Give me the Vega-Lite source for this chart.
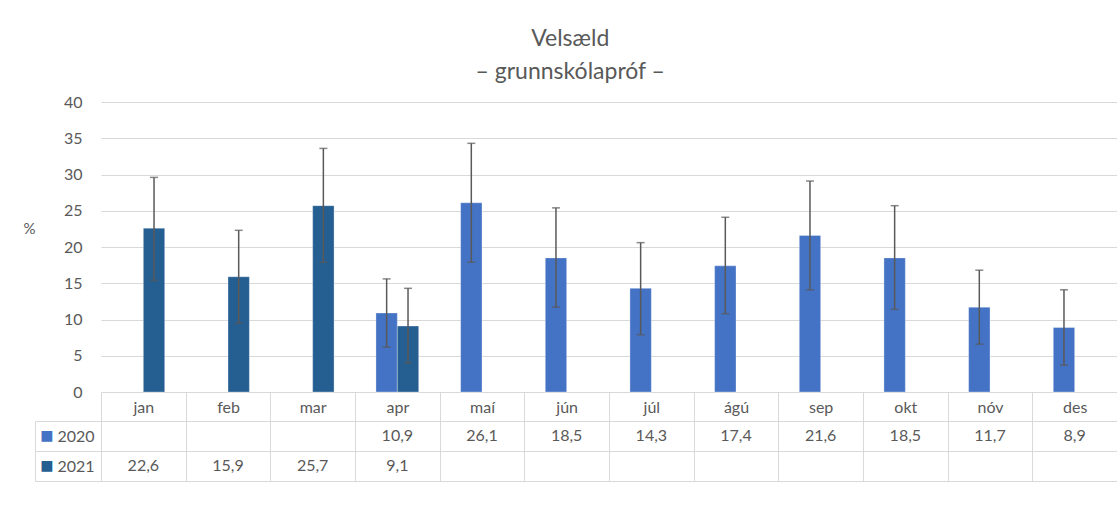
{
  "$schema": "https://vega.github.io/schema/vega-lite/v6.json",
  "padding": {"left": 23, "top": 28, "right": 0, "bottom": 0},
  "background": "#ffffff",
  "config": {
    "font": "Lato",
    "view": {"stroke": null},
    "concat": {"spacing": 29},
    "locale": {"number": {"decimal": ",", "thousands": ".", "grouping": [3], "currency": ["", " kr."]}},
    "axisQuantitative": {
      "values": [0, 5, 10, 15, 20, 25, 30, 35, 40],
      "labelOverlap": false,
      "ticks": false,
      "domain": false,
      "grid": true,
      "gridColor": "#d9d9d9",
      "labelPadding": 19,
      "labelFontSize": 16,
      "labelColor": "#595959",
      "titleAngle": 0,
      "titleX": -78,
      "titleY": 126,
      "titleAlign": "left",
      "titleBaseline": "middle",
      "titleFontSize": 15,
      "titleFontWeight": "normal",
      "titleColor": "#595959"
    }
  },
  "title": {
    "text": ["Velsæld", "– grunnskólapróf –"],
    "fontSize": 23,
    "fontWeight": "normal",
    "color": "#595959",
    "lineHeight": 33,
    "anchor": "middle",
    "offset": 10
  },
  "datasets": {
    "d": [
      {"month": "jan", "year": "2021", "value": 22.6, "lo": 15.4, "hi": 29.6},
      {"month": "feb", "year": "2021", "value": 15.9, "lo": 9.5, "hi": 22.3},
      {"month": "mar", "year": "2021", "value": 25.7, "lo": 17.9, "hi": 33.6},
      {"month": "apr", "year": "2020", "value": 10.9, "lo": 6.2, "hi": 15.6},
      {"month": "apr", "year": "2021", "value": 9.1, "lo": 4.0, "hi": 14.3},
      {"month": "maí", "year": "2020", "value": 26.1, "lo": 17.9, "hi": 34.3},
      {"month": "jún", "year": "2020", "value": 18.5, "lo": 11.7, "hi": 25.4},
      {"month": "júl", "year": "2020", "value": 14.3, "lo": 7.9, "hi": 20.6},
      {"month": "ágú", "year": "2020", "value": 17.4, "lo": 10.8, "hi": 24.1},
      {"month": "sep", "year": "2020", "value": 21.6, "lo": 14.1, "hi": 29.1},
      {"month": "okt", "year": "2020", "value": 18.5, "lo": 11.4, "hi": 25.7},
      {"month": "nóv", "year": "2020", "value": 11.7, "lo": 6.6, "hi": 16.8},
      {"month": "des", "year": "2020", "value": 8.9, "lo": 3.7, "hi": 14.1}
    ]
  },
  "data": {"name": "d"},
  "bounds": "flush",
  "spacing": 29,
  "vconcat": [
    {
      "width": 1016,
      "height": 290,
      "encoding": {
        "x": {
          "field": "month",
          "type": "nominal",
          "scale": {"domain": ["jan", "feb", "mar", "apr", "maí", "jún", "júl", "ágú", "sep", "okt", "nóv", "des"], "paddingInner": 0, "paddingOuter": 0},
          "axis": {
            "title": null,
            "labelAngle": 0,
            "labelFontSize": 16,
            "labelColor": "#595959",
            "labelBaseline": "top",
            "tickBand": "extent",
            "tickSize": 29,
            "tickColor": "#d9d9d9",
            "domainColor": "#d9d9d9",
            "labelPadding": -22,
            "grid": false
          }
        },
        "xOffset": {
          "field": "year",
          "type": "nominal",
          "scale": {"domain": ["2020", "2021"], "paddingInner": 0, "paddingOuter": 0.98}
        }
      },
      "layer": [
        {
          "mark": {"type": "bar", "stroke": "#ffffff", "strokeOpacity": 0.4, "strokeWidth": 0.8},
          "encoding": {
            "y": {"field": "value", "type": "quantitative", "title": "%", "scale": {"domain": [0, 40]}},
            "color": {
              "field": "year",
              "type": "nominal",
              "scale": {"domain": ["2020", "2021"], "range": ["#4472C4", "#255E91"]},
              "legend": null
            }
          }
        },
        {
          "mark": {"type": "rule", "color": "#595959", "strokeWidth": 1.5},
          "encoding": {
            "y": {"field": "lo", "type": "quantitative", "title": "%"},
            "y2": {"field": "hi"}
          }
        },
        {
          "mark": {"type": "tick", "color": "#595959", "thickness": 1.5, "size": 8, "orient": "horizontal"},
          "encoding": {
            "y": {"field": "lo", "type": "quantitative", "title": "%"}
          }
        },
        {
          "mark": {"type": "tick", "color": "#595959", "thickness": 1.5, "size": 8, "orient": "horizontal"},
          "encoding": {
            "y": {"field": "hi", "type": "quantitative", "title": "%"}
          }
        }
      ]
    },
    {
      "width": 1016,
      "height": 60,
      "encoding": {
        "x": {
          "field": "month",
          "type": "nominal",
          "scale": {"domain": ["jan", "feb", "mar", "apr", "maí", "jún", "júl", "ágú", "sep", "okt", "nóv", "des"], "paddingInner": 0, "paddingOuter": 0},
          "axis": {
            "title": null,
            "labels": false,
            "ticks": false,
            "domain": false,
            "grid": true,
            "gridColor": "#d9d9d9",
            "tickBand": "extent"
          }
        }
      },
      "layer": [
        {
          "mark": {"type": "text", "fontSize": 16, "color": "#595959"},
          "encoding": {
            "y": {
              "field": "year",
              "type": "nominal",
              "scale": {"domain": ["2020", "2021"], "paddingInner": 0, "paddingOuter": 0},
              "axis": {
                "orient": "left",
                "title": null,
                "tickBand": "extent",
                "tickSize": 66,
                "tickColor": "#d9d9d9",
                "domainColor": "#d9d9d9",
                "grid": true,
                "gridColor": "#d9d9d9",
                "labelPadding": -59,
                "labelFontSize": 16,
                "labelColor": "#595959",
                "labelAlign": "right"
              }
            },
            "text": {"field": "value", "type": "quantitative", "format": ".1f"}
          }
        },
        {
          "mark": {"type": "text", "opacity": 0},
          "encoding": {
            "y": {
              "field": "year",
              "type": "nominal",
              "axis": {
                "orient": "left",
                "offset": 66,
                "title": null,
                "ticks": false,
                "grid": false,
                "domainColor": "#d9d9d9",
                "labelExpr": "'■'",
                "labelFont": "DejaVu Sans",
                "labelPadding": -18,
                "labelFontSize": 14,
                "labelAlign": "right",
                "labelColor": {"condition": {"test": "datum.value == '2020'", "value": "#4472C4"}, "value": "#255E91"}
              }
            },
            "text": {"value": ""}
          }
        }
      ],
      "resolve": {"axis": {"y": "independent"}}
    }
  ]
}
